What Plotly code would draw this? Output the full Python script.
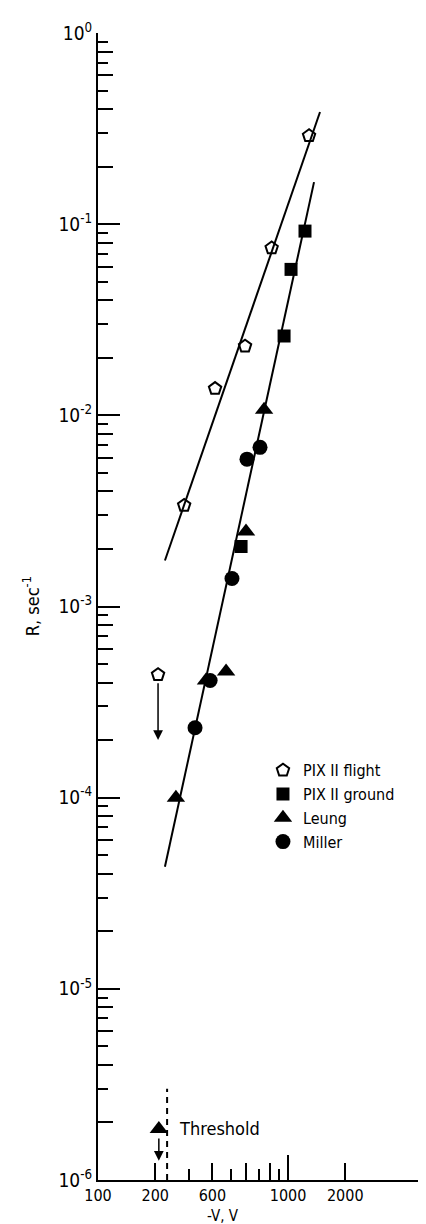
import numpy as np
import plotly.graph_objects as go

# ---- data ----
flight_v = [207, 284, 413, 594, 820, 1290]
flight_r = [4.4e-4, 3.38e-3, 1.38e-2, 2.3e-2, 7.5e-2, 2.9e-1]
ground_v = [566, 953, 1037, 1228]
ground_r = [2.06e-3, 2.6e-2, 5.8e-2, 9.2e-2]
leung_v = [257, 370, 472, 601, 748]
leung_r = [1.0e-4, 4.1e-4, 4.57e-4, 2.47e-3, 1.07e-2]
miller_v = [324, 389, 507, 608, 712]
miller_r = [2.32e-4, 4.1e-4, 1.4e-3, 5.9e-3, 6.8e-3]
threshold_point_v = [209]
threshold_point_r = [1.85e-6]
threshold_v = 231
threshold_r_span = [1e-6, 3.0e-6]
flight_arrow_r = [4.4e-4, 2.0e-4]
threshold_arrow_r = [1.85e-6, 1.26e-6]
flight_fit_v = [225, 1473]
flight_fit_r = [1.74e-3, 0.386]
ground_fit_v = [225, 1370]
ground_fit_r = [4.35e-5, 0.166]

x_tickvals = [100, 200, 400, 600, 800, 1000, 2000]
x_ticktext = ["100", "200", "600", "", "", "1000", "2000"]
x_minor = [300, 500, 700, 900]
y_decades = [-6, -5, -4, -3, -2, -1, 0]

FONT = "Liberation Sans Narrow, DejaVu Sans Condensed, Arial Narrow, sans-serif"
BLACK = "#000000"

fig = go.Figure()

# fitted lines
fig.add_trace(go.Scatter(x=flight_fit_v, y=flight_fit_r, mode="lines",
                         line=dict(color=BLACK, width=2), showlegend=False, hoverinfo="skip"))
fig.add_trace(go.Scatter(x=ground_fit_v, y=ground_fit_r, mode="lines",
                         line=dict(color=BLACK, width=2), showlegend=False, hoverinfo="skip"))
# threshold dashed line
fig.add_trace(go.Scatter(x=[threshold_v, threshold_v], y=threshold_r_span, mode="lines",
                         line=dict(color=BLACK, width=2, dash="6px,5px"), showlegend=False,
                         hoverinfo="skip"))

# data series
fig.add_trace(go.Scatter(x=flight_v, y=flight_r, mode="markers", name="PIX II flight",
                         marker=dict(symbol="pentagon-open", size=13, color=BLACK,
                                     line=dict(width=2, color=BLACK))))
fig.add_trace(go.Scatter(x=ground_v, y=ground_r, mode="markers", name="PIX II ground",
                         marker=dict(symbol="square", size=13, color=BLACK)))
fig.add_trace(go.Scatter(x=leung_v, y=leung_r, mode="markers", name="Leung",
                         marker=dict(symbol="triangle-up", size=16, color=BLACK)))
fig.add_trace(go.Scatter(x=miller_v, y=miller_r, mode="markers", name="Miller",
                         marker=dict(symbol="circle", size=15, color=BLACK)))
fig.add_trace(go.Scatter(x=threshold_point_v, y=threshold_point_r, mode="markers",
                         marker=dict(symbol="triangle-up", size=16, color=BLACK),
                         showlegend=False))

# overlay axes for extra tick lengths
fig.add_trace(go.Scatter(x=[None], y=[None], xaxis="x2", yaxis="y2", showlegend=False,
                         hoverinfo="skip"))

# arrows
fig.add_annotation(x=np.log10(flight_v[0]), y=np.log10(flight_arrow_r[1]),
                   ax=np.log10(flight_v[0]), ay=np.log10(flight_arrow_r[0]),
                   xref="x", yref="y", axref="x", ayref="y", showarrow=True,
                   arrowhead=2, arrowsize=1.3, arrowwidth=1.5, arrowcolor=BLACK,
                   standoff=0, startstandoff=7, text="")
fig.add_annotation(x=np.log10(threshold_point_v[0]), y=np.log10(threshold_arrow_r[1]),
                   ax=np.log10(threshold_point_v[0]), ay=np.log10(threshold_arrow_r[0]),
                   xref="x", yref="y", axref="x", ayref="y", showarrow=True,
                   arrowhead=2, arrowsize=1.3, arrowwidth=1.5, arrowcolor=BLACK,
                   standoff=0, startstandoff=8, text="")
fig.add_annotation(x=np.log10(threshold_v), y=np.log10(threshold_point_r[0]),
                   xref="x", yref="y", text="Threshold", showarrow=False,
                   xanchor="left", xshift=10, font=dict(family=FONT, size=18, color=BLACK))
# axis titles
fig.add_annotation(x=0.372, y=-0.0314, xref="paper", yref="paper", text="-V, V",
                   showarrow=False, xanchor="center", yanchor="middle",
                   font=dict(family=FONT, size=15, color=BLACK))
fig.add_annotation(x=-0.2, y=0.5, xref="paper", yref="paper", text="R, sec<sup>-1</sup>",
                   showarrow=False, textangle=-90, xanchor="center", yanchor="middle",
                   font=dict(family=FONT, size=18, color=BLACK))

y_minor_odd = [m * 10.0 ** d for d in y_decades[:-1] for m in (3, 5, 7, 9)]
y_minor_even = [m * 10.0 ** d for d in y_decades[:-1] for m in (2, 4, 6, 8)]

fig.update_layout(
    width=426, height=1224,
    margin=dict(l=90, r=0, t=25, b=52),
    paper_bgcolor="white", plot_bgcolor="white",
    font=dict(family=FONT, size=17, color=BLACK),
    showlegend=True,
    legend=dict(x=0.491, y=0.372, xanchor="left", yanchor="top",
                bgcolor="rgba(0,0,0,0)", font=dict(family=FONT, size=16, color=BLACK),
                itemwidth=30, tracegroupgap=0),
    xaxis=dict(type="log", range=[2, 3.768], showgrid=False, zeroline=False,
               showline=True, linecolor=BLACK, linewidth=2,
               ticks="inside", ticklen=17, tickwidth=2, tickcolor=BLACK,
               tickmode="array", tickvals=x_tickvals, ticktext=x_ticktext,
               tickfont=dict(family=FONT, size=16, color=BLACK),
               minor=dict(tickmode="array", tickvals=x_minor, ticks="inside",
                          ticklen=11, tickwidth=2, tickcolor=BLACK, showgrid=False),
               automargin=False),
    yaxis=dict(type="log", range=[-6, 0], showgrid=False, zeroline=False,
               showline=True, linecolor=BLACK, linewidth=2,
               ticks="inside", ticklen=22, tickwidth=2, tickcolor=BLACK,
               tickmode="array", tickvals=[10.0 ** d for d in y_decades],
               ticktext=["10<sup>%d</sup>" % d for d in y_decades],
               tickfont=dict(family=FONT, size=19, color=BLACK),
               minor=dict(tickmode="array", tickvals=y_minor_odd, ticks="inside",
                          ticklen=10, tickwidth=2, tickcolor=BLACK, showgrid=False),
               automargin=False),
    xaxis2=dict(type="log", range=[2, 3.768], overlaying="x", anchor="y2", side="bottom",
                showgrid=False, zeroline=False, showline=False,
                ticks="inside", ticklen=25, tickwidth=2, tickcolor=BLACK,
                tickmode="array", tickvals=[1000], showticklabels=False),
    yaxis2=dict(type="log", range=[-6, 0], overlaying="y", anchor="x2", side="left",
                showgrid=False, zeroline=False, showline=False,
                ticks="inside", ticklen=15, tickwidth=2, tickcolor=BLACK,
                tickmode="array", tickvals=y_minor_even, showticklabels=False),
)

fig.write_html("out.html")
